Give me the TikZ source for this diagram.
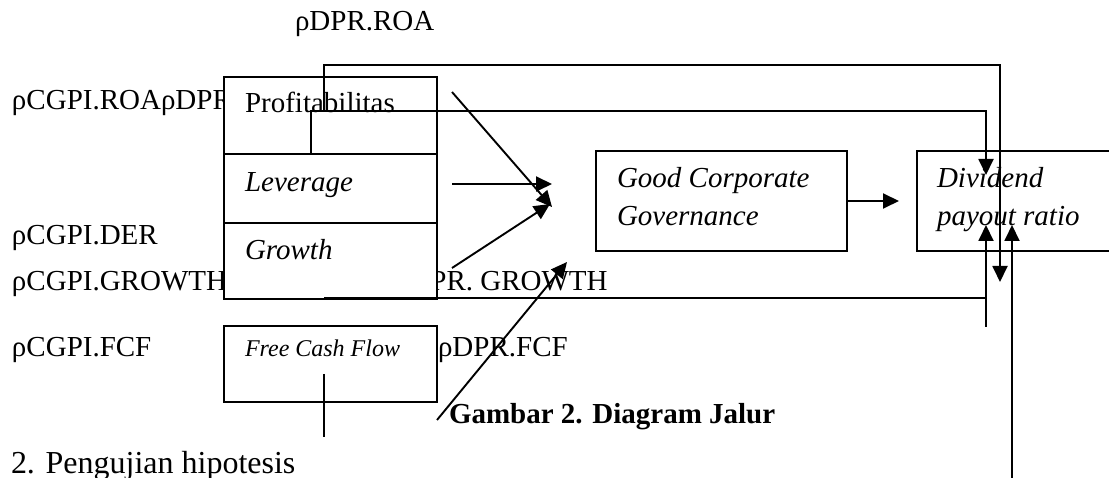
\documentclass[tikz,border=0pt]{standalone}
\usepackage{fontspec}
\setmainfont{Liberation Serif}
\usetikzlibrary{arrows.meta}
\begin{document}
\begin{tikzpicture}[x=1pt,y=-1pt,
  every node/.style={inner sep=0pt, outer sep=0pt},
  lbl/.style={anchor=base west, font=\fontsize{29}{34}\selectfont},
  ilbl/.style={anchor=base west, font=\fontsize{29}{34}\selectfont\itshape},
  slbl/.style={anchor=base west, font=\fontsize{24}{28}\selectfont\itshape},
  blbl/.style={anchor=base west, font=\fontsize{29}{34}\selectfont\bfseries},
  box/.style={draw, fill=white, line width=1.9pt, anchor=north west},
  link/.style={line width=1.9pt},
  arr/.style={link, -{Triangle[length=16pt,width=15pt]}}
]
\useasboundingbox (0,0) rectangle (1109,478);
\clip (0,0) rectangle (1109,478);

% coefficient labels (partly covered by the variable boxes)
\node[lbl] (rDprRoa) at (295,31) {ρDPR.ROA};
\node[lbl] (rCgRoa) at (12,110) {ρCGPI.ROAρDPR};
\node[lbl] (rCgDer) at (12,245) {ρCGPI.DER};
\node[lbl] (rCgGr) at (12,291) {ρCGPI.GROWTH};
\node[lbl] (rCgFcf) at (12,357) {ρCGPI.FCF};
\node[lbl] (rDprGr) at (395,291) {ρDPR. GROWTH};
\node[lbl] (rDprFcf) at (438,357) {ρDPR.FCF};

% variable boxes
\node[box, minimum width=213pt, minimum height=77pt] (prof) at (224,77) {};
\node[box, minimum width=213pt, minimum height=69pt] (lev) at (224,154) {};
\node[box, minimum width=213pt, minimum height=76pt] (grow) at (224,223) {};
\node[box, minimum width=213pt, minimum height=76pt] (fcf) at (224,326) {};
\node[box, minimum width=251pt, minimum height=100pt] (gcg) at (596,151) {};
\node[box, minimum width=230pt, minimum height=100pt] (dpr) at (917,151) {};

\node[lbl] (tProf) at (245,113) {Profitabilitas};
\node[ilbl] (tLev) at (245,192) {Leverage};
\node[ilbl] (tGrow) at (245,260) {Growth};
\node[slbl] (tFcf) at (245,357) {Free Cash Flow};
\node[ilbl] (tGcg1) at (617,188) {Good Corporate};
\node[ilbl] (tGcg2) at (617,226) {Governance};
\node[ilbl] (tDpr1) at (937,188) {Dividend};
\node[ilbl] (tDpr2) at (937,226) {payout ratio};

% connector end points
\coordinate (roaA) at (324,112);
\coordinate (roaB) at (324,65);
\coordinate (roaEnd) at (1000,282);
\coordinate (profA) at (311,154);
\coordinate (profB) at (311,111);
\coordinate (profEnd) at (986,175);
\coordinate (profOut) at (452,92);
\coordinate (levOut) at (452,184);
\coordinate (growOut) at (452,268);
\coordinate (hubA) at (552,207);
\coordinate (hubB) at (552,184);
\coordinate (hubC) at (550,204);
\coordinate (fcfOut) at (437,420);
\coordinate (fcfEnd) at (567,262);
\coordinate (grA) at (324,298);
\coordinate (grB) at (986,298);
\coordinate (upA) at (986,327);
\coordinate (upAEnd) at (986,225);
\coordinate (upB) at (1012,480);
\coordinate (upBEnd) at (1012,225);
\coordinate (fcfA) at (324,374);
\coordinate (fcfB) at (324,437);

% connectors
\draw[arr] (roaA) -- (roaB) -| (roaEnd);
\draw[arr] (profA) -- (profB) -| (profEnd);
\draw[arr] (profOut) -- (hubA);
\draw[arr] (levOut) -- (hubB);
\draw[arr] (growOut) -- (hubC);
\draw[arr] (fcfOut) -- (fcfEnd);
\draw[arr] (gcg.east) -- ++(52,0);
\draw[link] (grA) -- (grB);
\draw[arr] (upA) -- (upAEnd);
\draw[arr] (upB) -- (upBEnd);
\draw[link] (fcfA) -- (fcfB);

% caption and following text
\node[blbl] (cap) at (449,423) {Gambar 2. Diagram Jalur};
\node[anchor=base west, font=\fontsize{32}{38}\selectfont] (next) at (11,473) {2. Pengujian hipotesis};
\end{tikzpicture}
\end{document}
